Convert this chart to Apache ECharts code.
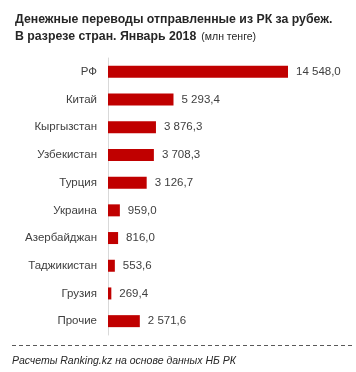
<!DOCTYPE html>
<html><head><meta charset="utf-8">
<script src="https://cdn.jsdelivr.net/npm/echarts@6/dist/echarts.min.js"></script>
<style>html,body{margin:0;padding:0;background:#fff}#c{width:356px;height:372px}</style>
</head><body><div id="c"></div>
<script>
const categories = ['РФ','Китай','Кыргызстан','Узбекистан','Турция','Украина','Азербайджан','Таджикистан','Грузия','Прочие'];
const values = [14548.0, 5293.4, 3876.3, 3708.3, 3126.7, 959.0, 816.0, 553.6, 269.4, 2571.6];
const titleLine1 = 'Денежные переводы отправленные из РК за рубеж.';
const titleLine2 = 'В разрезе стран. Январь 2018';
const titleUnit = '(млн тенге)';
const footer = 'Расчеты Ranking.kz на основе данных НБ РК';

function fmt(v){
  const s = v.toFixed(1).split('.');
  return s[0].replace(/\B(?=(\d{3})+(?!\d))/g,' ') + ',' + s[1];
}
const FONT = '"Liberation Sans", Arial, sans-serif';
const chart = echarts.init(document.getElementById('c'));
chart.setOption({
  animation:false,
  textStyle:{fontFamily:FONT},
  title:[{
    left:15, top:12, padding:0,
    text:'{b|' + titleLine1 + '}\n{b|' + titleLine2 + '} {n|' + titleUnit + '}',
    textStyle:{fontWeight:'normal',rich:{
      b:{fontFamily:FONT,fontWeight:'bold',fontSize:12.3,color:'#262626',lineHeight:16},
      n:{fontFamily:FONT,fontWeight:'normal',fontSize:10.5,color:'#262626',lineHeight:16}
    }}
  },{
    left:12, top:356, padding:0,
    text:footer,
    textStyle:{fontFamily:FONT,fontStyle:'italic',fontWeight:'normal',fontSize:10.5,color:'#262626'}
  }],
  grid:{left:108,top:58,width:180,height:277,containLabel:false},
  xAxis:{type:'value',min:0,max:14548,show:false},
  yAxis:{type:'category',data:categories,inverse:true,
    axisLine:{show:true,lineStyle:{color:'#d9d9d9',width:1}},
    axisTick:{show:false},
    axisLabel:{color:'#404040',fontSize:11.5,margin:11,fontFamily:FONT}
  },
  series:[{type:'bar',data:values,barWidth:12,
    itemStyle:{color:'#C00000'},
    label:{show:true,position:'right',distance:8,color:'#404040',fontSize:11.5,fontFamily:FONT,
      formatter:p=>fmt(p.value)}
  }],
  graphic:[{type:'line',shape:{x1:12,y1:345.5,x2:352,y2:345.5},
    style:{stroke:'#595959',lineWidth:1,lineDash:[4,3]}}]
});
</script></body></html>
